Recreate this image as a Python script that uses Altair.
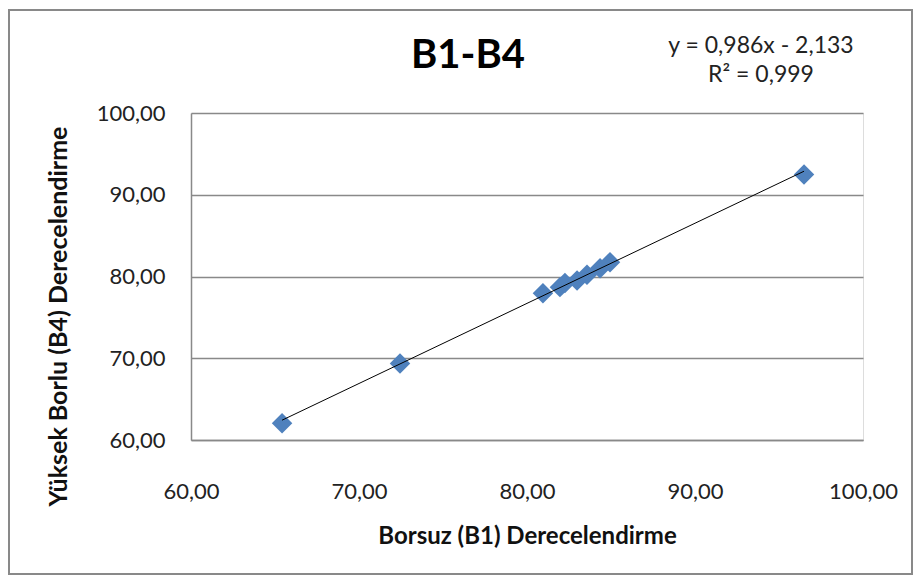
import altair as alt
import pandas as pd

# Data
b1 = [65.42, 72.44, 80.95, 81.96, 82.26, 82.98, 83.57, 84.35, 84.94, 96.49]
b4 = [62.05, 69.37, 77.95, 78.70, 79.20, 79.50, 80.20, 81.00, 81.75, 92.48]
ticks = [60, 70, 80, 90, 100]
chart_title = "B1-B4"
eq_lines = ["y = 0,986x - 2,133", "R² = 0,999"]
x_title = "Borsuz (B1) Derecelendirme"
y_title = "Yüksek Borlu (B4) Derecelendirme"

df = pd.DataFrame({"B1": b1, "B4": b4})
one = pd.DataFrame({"k": [0]})

W, H = 672, 327
PAD = {"left": 183, "top": 105, "right": 51, "bottom": 136}
FONT = "Lato"
GRAY = "#898989"
label_expr = "replace(format(datum.value, '.2f'), '.', ',')"

xs = alt.Scale(domain=[60, 100], nice=False, zero=False)
ys = alt.Scale(domain=[60, 100], nice=False, zero=False)

x_axis = alt.Axis(values=ticks, grid=False, ticks=False, domain=True, domainColor=GRAY,
                  domainWidth=1.5, labelExpr=label_expr, labelFont=FONT, labelFontSize=22,
                  labelColor="#222222", labelPadding=41, labelFlush=False, labelOverlap=False,
                  title=x_title, titleFont=FONT,
                  titleFontSize=24, titleFontWeight="bold", titleColor="#111111",
                  titlePadding=22)
y_axis = alt.Axis(values=ticks, grid=True, gridColor=GRAY, gridWidth=1.5, ticks=False,
                  domain=True, domainColor=GRAY, domainWidth=1.5, labelExpr=label_expr,
                  labelFont=FONT, labelFontSize=22, labelColor="#222222", labelPadding=26,
                  labelFlush=False, labelOverlap=False,
                  title=y_title, titleFont=FONT, titleFontSize=25, titleFontWeight="bold",
                  titleColor="#111111", titleX=-120, titleY=203)

frame = alt.Chart(one).mark_rect(fill=None, stroke=GRAY, strokeWidth=2).encode(
    x=alt.value(-182), x2=alt.value(W + PAD["right"] - 2),
    y=alt.value(-103), y2=alt.value(H + PAD["bottom"] - 2))

points = alt.Chart(df).mark_point(shape="diamond", filled=True, size=420,
                                  color="#4F81BD", opacity=1).encode(
    x=alt.X("B1:Q", scale=xs, axis=x_axis),
    y=alt.Y("B4:Q", scale=ys, axis=y_axis))

trend = alt.Chart(df).transform_regression("B1", "B4").mark_line(
    color="#000000", strokeWidth=1).encode(
    x=alt.X("B1:Q", scale=xs), y=alt.Y("B4:Q", scale=ys))

title = alt.Chart(one).mark_text(text=chart_title, font=FONT, fontSize=40,
                                  fontWeight="bold", color="#000000",
                                  align="center", baseline="alphabetic").encode(
    x=alt.value(277), y=alt.value(-45))

eq1 = alt.Chart(one).mark_text(text=eq_lines[0], font=FONT, fontSize=23, color="#222222",
                                align="center", baseline="alphabetic").encode(
    x=alt.value(570), y=alt.value(-60))
eq2 = alt.Chart(one).mark_text(text=eq_lines[1], font=FONT, fontSize=23, color="#222222",
                                align="center", baseline="alphabetic").encode(
    x=alt.value(570), y=alt.value(-31))

chart = alt.layer(frame, points, trend, title, eq1, eq2).properties(
    width=W, height=H,
    autosize=alt.AutoSizeParams(type="none"),
    padding=PAD,
).configure_view(stroke=None).configure(background="white")

chart.save("out.html", embed_options={"renderer": "svg", "actions": False})
